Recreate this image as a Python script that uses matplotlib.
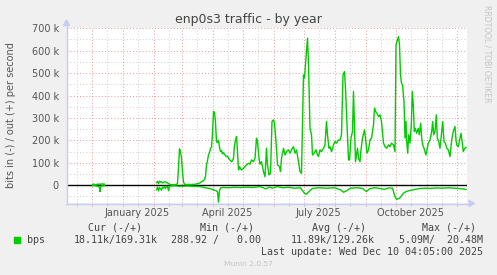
import numpy as np
import matplotlib
matplotlib.use('Agg')
import matplotlib.pyplot as plt
import matplotlib.dates as mdates
import matplotlib.transforms as mtransforms
from matplotlib.lines import Line2D
from matplotlib.patches import Polygon, Rectangle
import datetime as dt

# ---------------- data (day offset from 2025-01-01, kbit/s) ----------------
out_days = [-30, -29, -28, -27, -26, -25, -24, -23, -22, -21, -20, -19, -18, -17,
            34, 35, 36, 37, 38, 39, 40, 41, 42, 43, 44, 45, 46, 47, 48, 50, 52, 54, 55,
            56, 57, 58, 59, 60, 61, 62, 64, 66, 68, 70, 72, 74, 76, 78, 80, 82, 83, 84,
            85, 86, 87, 88, 89, 90, 91, 92, 93, 94, 95, 96, 97, 98, 99, 100, 101, 102,
            103, 104, 105, 106, 107, 108, 109, 110, 111, 112, 113, 114, 115, 116, 117,
            119, 121, 122.5, 124, 126, 127.5, 129, 131, 132.5, 134, 135, 136.5, 137.5,
            139, 141, 142.5, 144, 145, 146.5, 148, 149.5, 151, 152, 153.5, 155, 157, 158,
            159, 161, 162.5, 164, 166, 167.5, 169, 171, 172.5, 174, 176, 177.5, 179, 181,
            182, 183, 185, 186, 187.5, 189, 190, 191.5, 193.5, 195, 196, 197.5, 199, 201,
            202.5, 204, 205, 206.5, 207.5, 209, 211, 212.5, 214, 216, 217.5, 219, 220.5,
            222, 223, 224.5, 226, 227, 228.5, 230, 231, 232, 233, 234, 235, 236, 237.5,
            238.5, 240, 242, 243, 244.5, 246, 247.5, 249, 251, 252, 253, 254.5, 256,
            257.5, 259, 261, 262.5, 264, 266, 267.5, 269, 271, 272.5, 273.5, 275, 276,
            277, 278, 279, 280, 281.5, 282.5, 283.5, 284.2, 285.2, 286.2, 287.5, 288.8,
            289.8, 290.8, 291.8, 292.8, 294.2, 295.8, 296.8, 298.2, 299.2, 300.2, 301.5,
            302.5, 303.5, 304.8, 305.8, 307.5, 309.2, 310.2, 311.2, 312.5, 313.8, 314.8,
            316.2, 317.5, 319.2, 320.2, 321.5, 322.8, 324.2, 325.8, 327.5, 329.2, 330.8,
            332.5, 333.5, 334.2, 335.8, 337.5, 338.5, 339.8, 340.8, 342.2, 343.5]
out_kbps = [3, 6, 3, 2, 3, 5, 4, 6, 4, 5, 7, 4, 5, np.nan,
            12, 17, 8, 18, 14, 16, 10, 13, 15, 15, 12, 10, 8, 5, 3, 2, 3, 3, 10,
            80, 162, 150, 120, 60, 15, 5, 3, 4, 3, 4, 4, 6, 8, 12, 18, 25, 40, 90,
            110, 135, 145, 165, 170, 230, 329, 325, 280, 195, 190, 200, 170, 150, 155, 140, 145, 138,
            132, 128, 130, 120, 115, 110, 105, 110, 120, 180, 200, 217, 150, 68, 83,
            68, 75, 83, 91, 98, 94, 113, 105, 120, 210, 195, 120, 94,
            105, 61, 38, 165, 91, 46, 53, 284, 292, 277, 195, 91, 83, 61,
            120, 165, 135, 150, 158, 143, 158, 172, 143, 158, 105, 61, 53, 492,
            478, 537, 656, 537, 254, 225, 135, 143, 158, 135, 128, 158, 150, 165,
            180, 284, 225, 165, 172, 150, 180, 195, 188, 202, 202, 225, 492,
            507, 433, 269, 113, 113, 210, 240, 418, 269, 105, 135, 165, 120, 105,
            158, 210, 247, 210, 143, 158, 202, 210, 269, 344, 329, 321, 306,
            314, 284, 188, 172, 165, 180, 172, 188, 180, 150, 626, 649, 663,
            626, 492, 455, 448, 373, 210, 284, 195, 143, 225, 188, 269,
            418, 358, 240, 254, 232, 254, 225, 277, 210, 180, 165,
            150, 135, 165, 188, 202, 240, 284, 225, 240, 314, 210,
            195, 165, 240, 284, 195, 188, 165, 158, 128, 202, 240,
            262, 202, 180, 172, 210, 232, 188, 150, 165, 169]

in_days = [-30, -29, -28, -27, -26, -25, -24, -23, -22.5, -22, -21, -20, -19, -18, -17,
           34, 35, 36, 37, 38, 39, 40, 41, 42, 43, 44, 45, 46, 47, 48, 52, 56, 60, 64, 70,
           76, 80, 84, 88, 92, 94, 95, 96, 97, 98, 100, 106, 112, 118, 124, 130, 137, 140,
           143, 147, 150, 155, 160, 166, 172, 178, 182, 184, 186, 190, 196, 204, 212, 218,
           221, 224, 228, 235, 240, 244, 247, 252, 257, 262, 266, 270, 272.5, 274.2, 277.5,
           280.8, 284, 290, 296, 302, 308, 314, 320, 326, 332, 338, 343.5]
in_kbps = [-1, -2, -1, -2, -3, -4, -6, -10, -28, -8, -3, -2, -3, -2, np.nan,
           -20, -8, -25, -10, -15, -22, -8, -12, -6, -15, -4, -5, -24, -5, -3, -2, -4, -4, -3, -4,
           -5, -8, -12, -15, -22, -25, -30, -75, -25, -12, -10, -11, -9, -10, -8, -10, -6, -9,
           -16, -8, -13, -6, -11, -9, -13, -11, -36, -40, -30, -14, -11, -13, -11, -20,
           -31, -25, -13, -11, -14, -28, -16, -11, -14, -18, -12, -13, -51, -63, -56,
           -36, -27, -21, -15, -13, -14, -12, -13, -11, -13, -15, -18]

ytick_vals = [0, 100, 200, 300, 400, 500, 600, 700]
ytick_labels = ['0', '100 k', '200 k', '300 k', '400 k', '500 k', '600 k', '700 k']
month_labels = ['January 2025', 'April 2025', 'July 2025', 'October 2025']
month_label_dates = [dt.datetime(2025, 1, 16), dt.datetime(2025, 4, 16),
                     dt.datetime(2025, 7, 16), dt.datetime(2025, 10, 16)]
legend_headers = ['Cur (-/+)', 'Min (-/+)', 'Avg (-/+)', 'Max (-/+)']
legend_values = ['18.11k/169.31k', '288.92 /   0.00', '11.89k/129.26k', '5.09M/  20.48M']

# ---------------- figure ----------------
W, H = 497, 275
GREEN = '#00CC00'
fig = plt.figure(figsize=(W / 100, H / 100), dpi=100, facecolor='#F0F0F0')
ax = fig.add_axes([66.5 / W, 72 / H, 400 / W, 175 / H])
ax.set_facecolor('white')
for s in ax.spines.values():
    s.set_visible(False)

base = mdates.date2num(dt.datetime(2025, 1, 1))
ax.set_xlim(base - 56, base + 344)
ax.set_ylim(-79, 701)

dot = (0, (1, 2))
# horizontal grid
for v in [-50, 50, 150, 250, 350, 450, 550, 650]:
    ax.axhline(v, color='#D4D4D4', lw=0.75, ls=dot, zorder=1)
for v in ytick_vals[1:]:
    ax.axhline(v, color='#EAA0A0', lw=0.75, ls=dot, zorder=1.2)

# vertical grid
month_starts = [mdates.date2num(dt.datetime(2024 + (m > 0), (11 + m) % 12 + 1, 1)) for m in range(13)]
mid_months = [mdates.date2num(dt.datetime(2024 + (m > 1), (10 + m) % 12 + 1, 16)) for m in range(13)]
for xv in mid_months:
    ax.axvline(xv, color='#D4D4D4', lw=0.75, ls=dot, zorder=1)
for xv in month_starts:
    ax.axvline(xv, color='#EAA0A0', lw=0.75, ls=dot, zorder=1.2)

ax.axhline(0, color='black', lw=1.0, zorder=2)

ax.plot(base + np.array(out_days), out_kbps, color=GREEN, lw=1.0, zorder=3)
ax.plot(base + np.array(in_days), in_kbps, color=GREEN, lw=1.0, zorder=3)

ax.set_yticks(ytick_vals)
ax.set_yticklabels(ytick_labels)
ax.tick_params(axis='y', length=0, pad=5.5, labelsize=7, labelcolor='#555555')
ax.set_xticks(month_starts + mid_months)
ax.set_xticklabels([])
ax.tick_params(axis='x', length=2, width=0.7, color='#BBBBBB', direction='out')

# axis lines with arrows
def P(x, y):
    return (x / W, 1 - y / H)

axcol = '#C8CCF0'
fig.add_artist(Line2D([66.5 / W, 66.5 / W], [P(0, 204)[1], P(0, 24)[1]],
                      transform=fig.transFigure, color=axcol, lw=1))
fig.add_artist(Line2D([P(66, 0)[0], P(470, 0)[0]], [P(0, 203.5)[1]] * 2,
                      transform=fig.transFigure, color=axcol, lw=1))
fig.add_artist(Polygon([P(66.5, 20), P(63.5, 25.5), P(69.5, 25.5)], closed=True,
                       transform=fig.transFigure, color=axcol))
fig.add_artist(Polygon([P(474.5, 203.5), P(469, 200.5), P(469, 206.5)], closed=True,
                       transform=fig.transFigure, color=axcol))

# month labels
btr = mtransforms.blended_transform_factory(ax.transData, fig.transFigure)
for lab, d in zip(month_labels, month_label_dates):
    ax.text(mdates.date2num(d), P(0, 212.5)[1], lab, transform=btr, ha='center', va='center',
            fontsize=7, color='#555555')

# titles
fig.text(*P(248.5, 19), 'enp0s3 traffic - by year', ha='center', va='center', fontsize=9, color='#444444')
fig.text(*P(11.5, 115), 'bits in (-) / out (+) per second', ha='center', va='center',
         rotation=90, fontsize=7, color='#555555')
fig.text(*P(487.5, 53.5), 'RRDTOOL / TOBI OETIKER', ha='center', va='center', rotation=270,
         fontsize=5.5, color='#C4C4C4')

# legend
mono = 'DejaVu Sans Mono'
hdr_right = [142.3, 254, 365.7, 476]
val_right = [157.7, 260.7, 374.3, 482.7]
for t, xr in zip(legend_headers, hdr_right):
    fig.text(*P(xr, 228), t, ha='right', va='center', family=mono, fontsize=7.2, color='#444444')
for t, xr in zip(legend_values, val_right):
    fig.text(*P(xr, 240), t, ha='right', va='center', family=mono, fontsize=7.2, color='#444444')
fig.add_artist(Rectangle(P(14, 242.5), 5.5 / W, 5.5 / H, transform=fig.transFigure, color=GREEN))
fig.text(*P(26.5, 240), 'bps', ha='left', va='center', family=mono, fontsize=7.2, color='#444444')
fig.text(*P(482.7, 252), 'Last update: Wed Dec 10 04:05:00 2025', ha='right', va='center',
         family=mono, fontsize=7.2, color='#444444')
fig.text(*P(248.5, 264.5), 'Munin 2.0.57', ha='center', va='center', fontsize=5.4, color='#C4C4C4')

fig.savefig('out.png', dpi=100, facecolor=fig.get_facecolor())
